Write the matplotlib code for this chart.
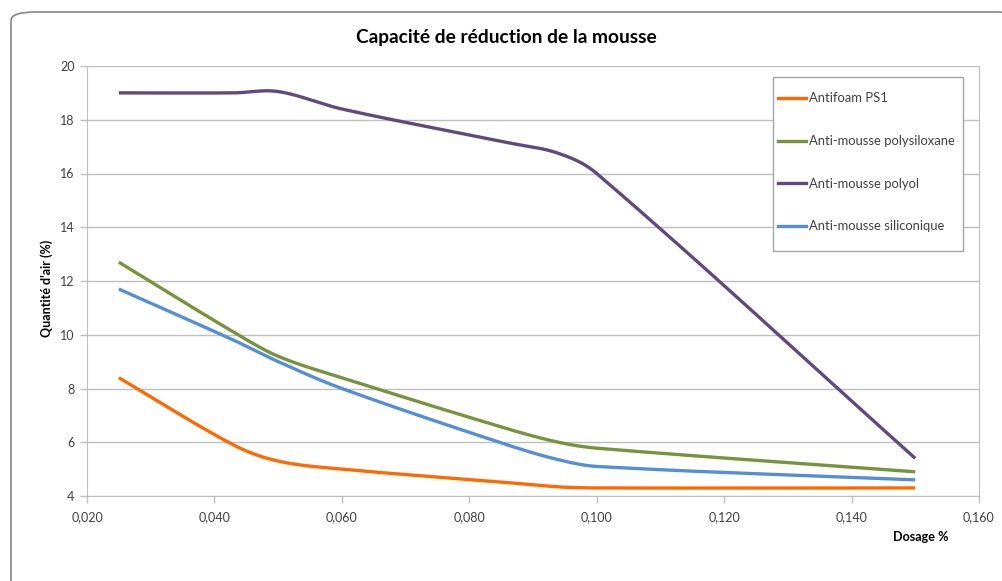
import matplotlib.pyplot as plt
import numpy as np
from matplotlib.lines import Line2D
from matplotlib.patches import FancyBboxPatch, Rectangle
from matplotlib.ticker import FuncFormatter, MultipleLocator

plt.rcParams["font.family"] = ["Lato", "DejaVu Sans"]

# dosage (%) and air content (%)
dosage = [0.025, 0.043, 0.050, 0.060, 0.086, 0.094, 0.100, 0.150]
antifoam_ps1 = [8.4, 5.9, 5.3, 5.0, 4.5, 4.34, 4.3, 4.3]
polysiloxane = [12.7, 10.1, 9.2, 8.4, 6.5, 6.0, 5.78, 4.9]
polyol = [19.0, 19.0, 19.05, 18.4, 17.15, 16.75, 16.0, 5.4]
siliconique = [11.7, 9.8, 9.0, 8.0, 5.9, 5.35, 5.1, 4.6]

series = [
    ("Antifoam PS1", antifoam_ps1, "#FF6A00"),
    ("Anti-mousse polysiloxane", polysiloxane, "#77933C"),
    ("Anti-mousse polyol", polyol, "#604A7B"),
    ("Anti-mousse siliconique", siliconique, "#558ED5"),
]

GRID = "#BFBFBF"
TEXT = "#404040"


def smooth(xs, ys, steps=40):
    # smoothed line like Excel: cubic Hermite pieces with centred slopes
    xs = np.asarray(xs, float)
    ys = np.asarray(ys, float)
    n = len(xs)
    m = np.empty(n)
    m[0] = (ys[1] - ys[0]) / (xs[1] - xs[0])
    m[-1] = (ys[-1] - ys[-2]) / (xs[-1] - xs[-2])
    m[1:-1] = (ys[2:] - ys[:-2]) / (xs[2:] - xs[:-2])
    t = np.linspace(0, 1, steps)
    out_x, out_y = [], []
    for i in range(n - 1):
        h = xs[i + 1] - xs[i]
        h00 = 2 * t ** 3 - 3 * t ** 2 + 1
        h10 = t ** 3 - 2 * t ** 2 + t
        h01 = -2 * t ** 3 + 3 * t ** 2
        h11 = t ** 3 - t ** 2
        seg_y = h00 * ys[i] + h10 * h * m[i] + h01 * ys[i + 1] + h11 * h * m[i + 1]
        seg_x = xs[i] + t * h
        start = 0 if i == 0 else 1
        out_x.append(seg_x[start:])
        out_y.append(seg_y[start:])
    return np.concatenate(out_x), np.concatenate(out_y)


fig = plt.figure(figsize=(10.03, 5.81), dpi=100)
frame = FancyBboxPatch(
    (11 / 1003, 1 - 600 / 581), 1010 / 1003, 588 / 581,
    boxstyle="round,pad=0,rounding_size=0.025",
    transform=fig.transFigure, facecolor="white", edgecolor="#868686", linewidth=1.2,
    mutation_aspect=581 / 1003, zorder=-1,
)
fig.patches.append(frame)
ax = fig.add_axes([87 / 1003, 1 - 496 / 581, (979 - 87) / 1003, (496 - 66) / 581])
ax.set_facecolor("none")

for label, values, color in series:
    sx, sy = smooth(dosage, values)
    ax.plot(sx, sy, color=color, linewidth=2.4, solid_capstyle="butt", zorder=3)

ax.set_xlim(0.02, 0.16)
ax.set_ylim(4, 20)
ax.xaxis.set_major_locator(MultipleLocator(0.02))
ax.yaxis.set_major_locator(MultipleLocator(2))
ax.xaxis.set_major_formatter(FuncFormatter(lambda v, _: f"{v:.3f}".replace(".", ",")))
ax.yaxis.set_major_formatter(FuncFormatter(lambda v, _: f"{v:.0f}"))
ax.grid(axis="y", color=GRID, linewidth=1)
ax.set_axisbelow(True)
for side in ["left", "bottom", "right"]:
    ax.spines[side].set_color(GRID)
ax.spines["top"].set_visible(False)
ax.tick_params(axis="both", colors=GRID, labelcolor=TEXT, labelsize=9, length=5, width=1)
ax.tick_params(axis="x", pad=6)
ax.tick_params(axis="y", pad=4)

fig.text(0.505, 1 - 37 / 581, "Capacité de réduction de la mousse",
         ha="center", va="center", fontsize=13.8, fontweight="bold", color="black")
fig.text(47 / 1003, 1 - 288 / 581, "Quantité d'air (%)", rotation=90,
         ha="center", va="center", fontsize=9, fontweight="bold", color="black")
fig.text(921 / 1003, 1 - 537 / 581, "Dosage %",
         ha="center", va="center", fontsize=9.1, fontweight="bold", color="black")

# legend box
ax.add_patch(Rectangle((773 / 1003, 1 - 251 / 581), 190 / 1003, 174 / 581,
                       transform=fig.transFigure, facecolor="white", edgecolor="#A6A6A6",
                       linewidth=1, zorder=5, clip_on=False))
handles = [Line2D([], [], color=c, linewidth=2.4) for _, _, c in series]
leg = ax.legend(handles, [s[0] for s in series], loc="upper left",
                bbox_to_anchor=(774 / 1003, 1 - 88.5 / 581), bbox_transform=fig.transFigure,
                frameon=False, fontsize=9.4, labelspacing=2.35, handlelength=2.15,
                handletextpad=0.2, borderpad=0.3, borderaxespad=0)
leg.set_zorder(6)
for txt in leg.get_texts():
    txt.set_color(TEXT)

fig.savefig("out.png", dpi=100)
